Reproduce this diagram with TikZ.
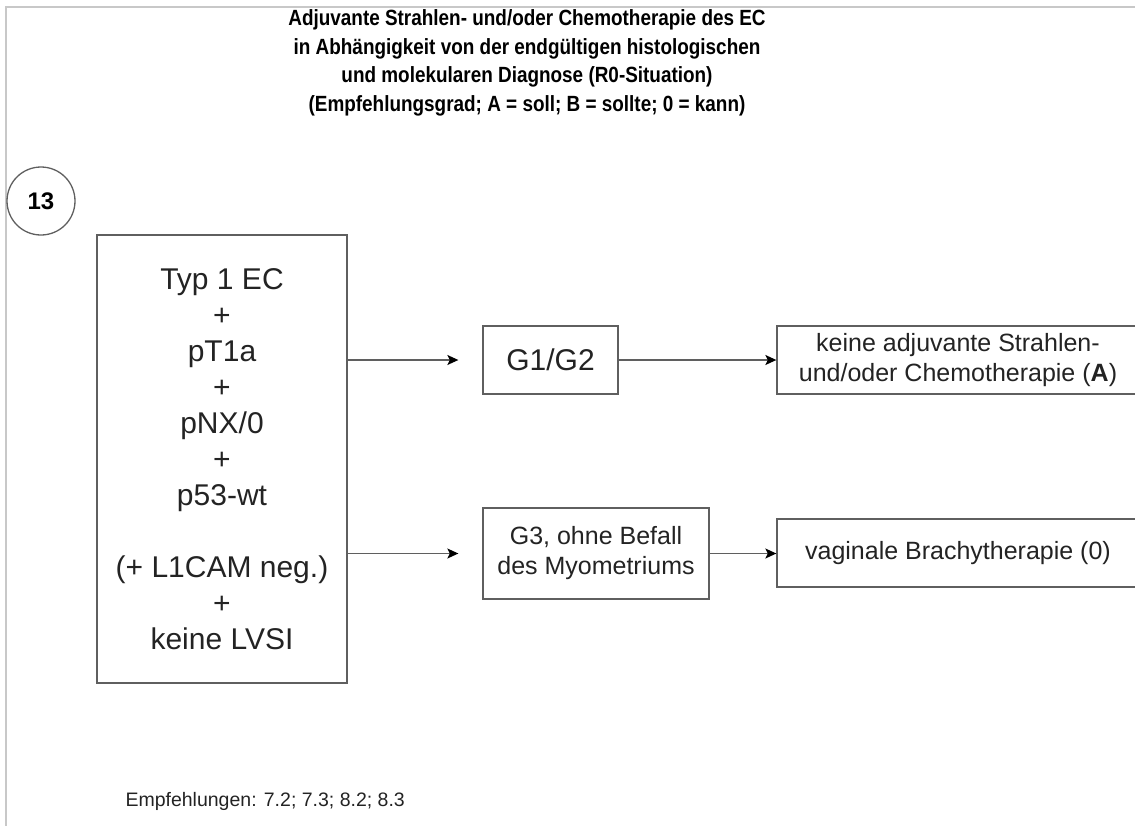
\documentclass[tikz,border=0pt]{standalone}
\usepackage{fontspec}
\setmainfont{Liberation Sans}
\newfontfamily\titlefont{Liberation Sans}[FakeStretch=0.86]
\usepackage{xcolor}
\usepackage{tikz}
\usetikzlibrary{arrows.meta, positioning}
\definecolor{frame_grey}{RGB}{200, 200, 200}
\definecolor{box_line}{RGB}{95, 95, 95}
\definecolor{box_text}{RGB}{35, 35, 35}

\begin{document}
\begin{tikzpicture}[x=1pt, y=-1pt,
            blk/.style={draw=box_line, line width=1.3pt, align=center,
                        inner sep=0pt, text=box_text},
            arr/.style={-{Stealth[length=11pt, width=10pt, inset=2.5pt, color=black]},
                        line width=1.4pt, box_line}]
            \clip (0,0) rectangle (1135,825);
            \draw[frame_grey, line width=1.5pt] (6,830) -- (6,7) -- (1140,7);
            \node[font=\titlefont\bfseries\fontsize{22}{28.5}\selectfont, align=center] (title)
              at (527,63) {Adjuvante Strahlen- und/oder Chemotherapie des EC\\
              in Abhängigkeit von der endgültigen histologischen\\
              und molekularen Diagnose (R0-Situation)\\
              (Empfehlungsgrad; A = soll; B = sollte; 0 = kann)};
            \node[circle, draw=box_line, line width=1.3pt, minimum size=68pt,
              inner sep=0pt, font=\bfseries\fontsize{24}{24}\selectfont] (nr)
              at (41,201) {13};
            \node[blk, minimum width=250pt, minimum height=448pt,
              font=\fontsize{30}{36}\selectfont] (typ)
              at (222,459) {Typ 1 EC\\+\\pT1a\\+\\pNX/0\\+\\p53-wt\\[36pt]
              (+ L1CAM neg.)\\+\\keine LVSI};
            \node[blk, minimum width=135pt, minimum height=68pt,
              font=\fontsize{30}{36}\selectfont] (g12)
              at (550.5,360) {G1/G2};
            \node[blk, minimum width=226pt, minimum height=91pt,
              font=\fontsize{25}{30}\selectfont] (g3)
              at (596,553.5) {G3, ohne Befall\\des Myometriums};
            \node[blk, minimum width=362pt, minimum height=68pt,
              font=\fontsize{25}{30}\selectfont] (keine)
              at (958,360) {keine adjuvante Strahlen-\\
              und/oder Chemotherapie (\textbf{A})};
            \node[blk, minimum width=362pt, minimum height=68pt,
              font=\fontsize{25}{30}\selectfont] (brachy)
              at (958,553) {vaginale Brachytherapie (0)};
            \coordinate (g12in) at ([xshift=-24pt]g12.west);
            \coordinate (g3in) at ([xshift=-24pt]g3.west);
            \draw[arr] (typ.east |- g12in) -- (g12in);
            \draw[arr] (typ.east |- g3in) -- (g3in);
            \draw[arr] (g12) -- (keine);
            \draw[arr] (g3.east) -- (brachy.west |- g3.east);
            \node[anchor=west, text=box_text, font=\fontsize{19.5}{20}\selectfont] (empf)
              at (122,801) {Empfehlungen: 7.2; 7.3; 8.2; 8.3};
          \end{tikzpicture}
\end{document}
